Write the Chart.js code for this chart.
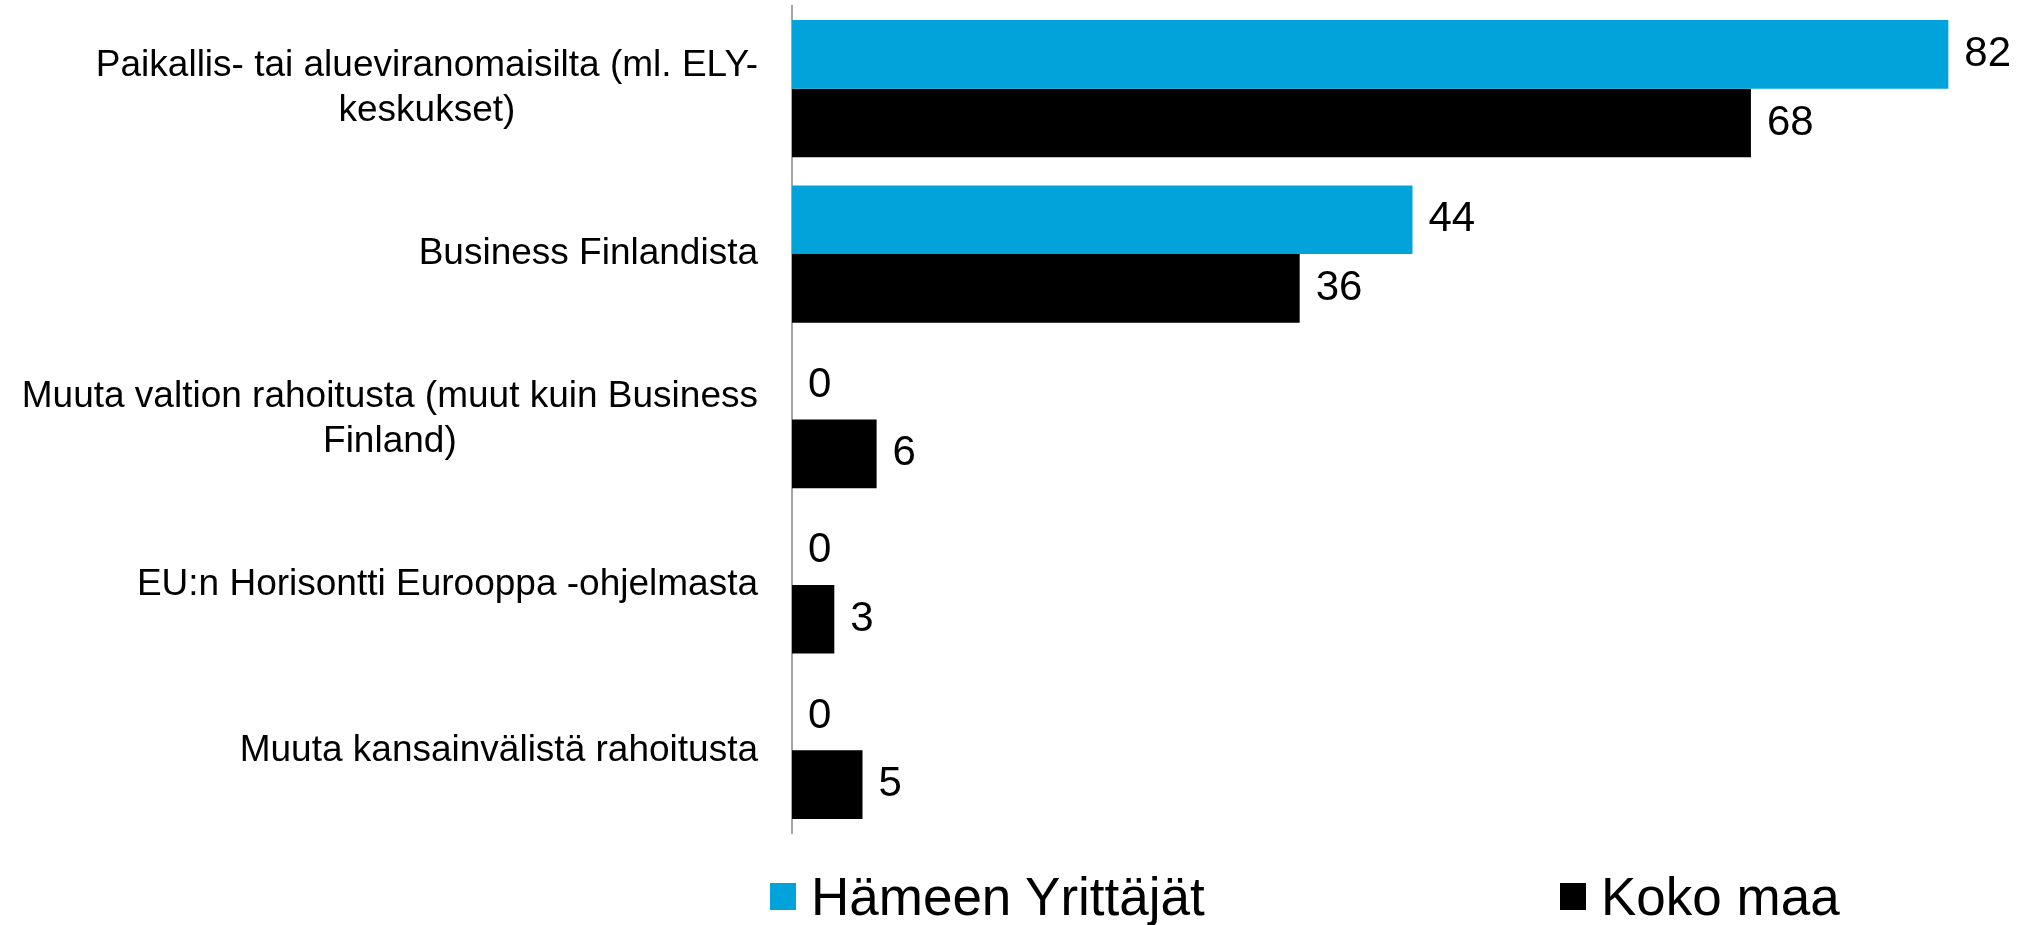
<!DOCTYPE html>
<html>
<head>
<meta charset="utf-8">
<script src="https://cdn.jsdelivr.net/npm/chart.js@4/dist/chart.umd.min.js"></script>
<style>
    html, body { margin: 0; padding: 0; background: #fff; }
    #wrap { position: relative; width: 2022px; height: 925px; }
    #legend .item { position: absolute; top: 868px; height: 56px; display: flex; align-items: center;
        font-family: "Liberation Sans", Arial, sans-serif; font-size: 53px; color: #000; white-space: nowrap; }
    #legend .box { width: 26px; height: 27px; margin-right: 15px; }
</style>
</head>
<body>
<div id="wrap">
    <canvas id="chart" width="2022" height="925"></canvas>
    <div id="legend"></div>
</div>
<script>
// categories (multi-line labels as arrays)
const categories = [
    ["Paikallis- tai alueviranomaisilta (ml. ELY-", "keskukset)"],
    ["Business Finlandista"],
    ["Muuta valtion rahoitusta (muut kuin Business", "Finland)"],
    ["EU:n Horisontti Eurooppa -ohjelmasta"],
    ["Muuta kansainvälistä rahoitusta"]
];
const seriesNames = ["Hämeen Yrittäjät", "Koko maa"];
const hameenValues = [82, 44, 0, 0, 0];
const kokoMaaValues = [68, 36, 6, 3, 5];
const seriesColors = ["#02a3da", "#000000"];

const FONT = '"Liberation Sans", Arial, sans-serif';

// draws category labels: block right-aligned, lines centered inside the block
const categoryLabels = {
    id: "categoryLabels",
    afterDraw(chart) {
        const ctx = chart.ctx;
        const y = chart.scales.y;
        const right = chart.chartArea.left - 34;
        const lineH = 45;
        ctx.save();
        ctx.font = "37px " + FONT;
        ctx.fillStyle = "#000";
        ctx.textBaseline = "middle";
        ctx.textAlign = "center";
        chart.data.labels.forEach((lines, i) => {
            const cy = y.getPixelForTick(i);
            const maxW = Math.max(...lines.map(l => ctx.measureText(l).width));
            const cx = right - maxW / 2;
            const y0 = cy - (lines.length - 1) * lineH / 2;
            lines.forEach((l, j) => ctx.fillText(l, cx, y0 + j * lineH));
        });
        ctx.restore();
    }
};

// value labels at the end of each bar
const valueLabels = {
    id: "valueLabels",
    afterDatasetsDraw(chart) {
        const ctx = chart.ctx;
        ctx.save();
        ctx.font = "42px " + FONT;
        ctx.fillStyle = "#000";
        ctx.textBaseline = "middle";
        ctx.textAlign = "left";
        chart.data.datasets.forEach((ds, di) => {
            chart.getDatasetMeta(di).data.forEach((bar, i) => {
                ctx.fillText(String(ds.data[i]), bar.x + 16, bar.y);
            });
        });
        ctx.restore();
    }
};

const chart = new Chart(document.getElementById("chart"), {
    type: "bar",
    data: {
        labels: categories,
        datasets: [
            { label: seriesNames[0], data: hameenValues, backgroundColor: seriesColors[0] },
            { label: seriesNames[1], data: kokoMaaValues, backgroundColor: seriesColors[1] }
        ]
    },
    options: {
        indexAxis: "y",
        responsive: false,
        animation: false,
        events: [],
        categoryPercentage: 0.83,
        barPercentage: 1.0,
        layout: { padding: { left: 792, right: 13, top: 6, bottom: 92 } },
        scales: {
            x: { display: false, min: 0, max: 86.3 },
            y: {
                grid: { display: false, drawTicks: false },
                border: { display: true, color: "#a6a6a6", width: 2 },
                ticks: { display: false },
                afterFit: s => { s.width = 0; }
            }
        },
        plugins: {
            legend: { display: false },
            tooltip: { enabled: false }
        }
    },
    plugins: [categoryLabels, valueLabels]
});

// html legend built from the datasets
const legendEl = document.getElementById("legend");
const legendLeft = [770, 1560];
chart.data.datasets.forEach((ds, i) => {
    const item = document.createElement("div");
    item.className = "item";
    item.style.left = legendLeft[i] + "px";
    const box = document.createElement("span");
    box.className = "box";
    box.style.background = ds.backgroundColor;
    const txt = document.createElement("span");
    txt.textContent = ds.label;
    item.appendChild(box);
    item.appendChild(txt);
    legendEl.appendChild(item);
});
</script>
</body>
</html>
